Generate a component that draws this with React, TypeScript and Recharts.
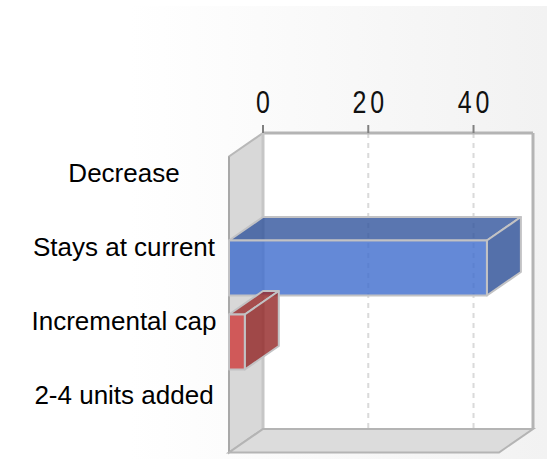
import { Bar, BarChart, CartesianGrid, Customized, XAxis, YAxis } from "recharts";

const categories = ["Decrease", "Stays at current", "Incremental cap", "2-4 units added"];
const responses = [0, 49, 3, 0];
const tickValues = [0, 20, 40];
const axisMax = 51.3;

const chartData = categories.map((name, i) => ({ name, value: responses[i] }));

// chart box and plot area (back plane of the 3d box)
const WIDTH = 547;
const HEIGHT = 459;
const MARGIN = { top: 93, right: 14, bottom: 30, left: 0 };
const X_AXIS_HEIGHT = 40;
const Y_AXIS_WIDTH = 263;
const PLOT_LEFT = MARGIN.left + Y_AXIS_WIDTH;
const PLOT_TOP = MARGIN.top + X_AXIS_HEIGHT;
const PLOT_RIGHT = WIDTH - MARGIN.right;
const PLOT_BOTTOM = HEIGHT - MARGIN.bottom;

// offset from the back plane to the front plane
const DEPTH_X = -34;
const DEPTH_Y = 23.5;

const EDGE = "#c2c2c4";

const palette = [
  { front: "#3d6bcd", top: "#31549c", side: "#294c95" },
  { front: "#3d6bcd", top: "#31549c", side: "#294c95" },
  { front: "#ce3a3a", top: "#9a2a2a", side: "#922424" },
  { front: "#3d6bcd", top: "#31549c", side: "#294c95" },
];

const pts = (list: number[][]) => list.map((p) => p.join(",")).join(" ");

function BoxBar(props: any) {
  const { x, y, width, height, index } = props;
  if (!width || width <= 0) return <g />;
  const c = palette[index % palette.length];
  const fx = x + DEPTH_X;
  const fy = y + DEPTH_Y;
  return (
    <g fillOpacity={0.8} stroke={EDGE} strokeWidth={2} strokeLinejoin="round">
      <polygon
        points={pts([[x, y], [x + width, y], [fx + width, fy], [fx, fy]])}
        fill={c.top}
      />
      <polygon
        points={pts([
          [x + width, y],
          [x + width, y + height],
          [fx + width, fy + height],
          [fx + width, fy],
        ])}
        fill={c.side}
      />
      <rect x={fx} y={fy} width={width} height={height} fill={c.front} />
    </g>
  );
}

function Walls() {
  return (
    <g>
      {/* back plane top and right borders */}
      <line x1={PLOT_LEFT} y1={PLOT_TOP} x2={PLOT_RIGHT} y2={PLOT_TOP} stroke="#b4b4b4" strokeWidth={3} />
      <line x1={PLOT_RIGHT} y1={PLOT_TOP} x2={PLOT_RIGHT} y2={PLOT_BOTTOM} stroke="#b4b4b4" strokeWidth={3} />
      {/* left wall */}
      <polygon
        points={pts([
          [PLOT_LEFT, PLOT_TOP],
          [PLOT_LEFT, PLOT_BOTTOM],
          [PLOT_LEFT + DEPTH_X, PLOT_BOTTOM + DEPTH_Y],
          [PLOT_LEFT + DEPTH_X, PLOT_TOP + DEPTH_Y],
        ])}
        fill="#d8d8d8"
        stroke="#b8b8b8"
        strokeWidth={2}
      />
      <line x1={PLOT_LEFT} y1={PLOT_TOP} x2={PLOT_LEFT} y2={PLOT_BOTTOM} stroke="#c6c6c6" strokeWidth={3} />
      <line
        x1={PLOT_LEFT + DEPTH_X}
        y1={PLOT_TOP + DEPTH_Y}
        x2={PLOT_LEFT + DEPTH_X}
        y2={PLOT_BOTTOM + DEPTH_Y}
        stroke="#a8a8a8"
        strokeWidth={2}
      />
      {/* floor */}
      <polygon
        points={pts([
          [PLOT_LEFT, PLOT_BOTTOM],
          [PLOT_RIGHT, PLOT_BOTTOM],
          [PLOT_RIGHT + DEPTH_X, PLOT_BOTTOM + DEPTH_Y],
          [PLOT_LEFT + DEPTH_X, PLOT_BOTTOM + DEPTH_Y],
        ])}
        fill="#dcdcdc"
        stroke="#b4b4b4"
        strokeWidth={2}
      />
    </g>
  );
}

// narrow, spaced-out digits for the value axis
function ValueTick(props: any) {
  const { x, y, payload } = props;
  return (
    <g transform={`translate(${x + 2},${y - 10}) scale(0.78,1)`}>
      <text
        x={0}
        y={0}
        textAnchor="middle"
        fontFamily="'Liberation Sans', Arial, sans-serif"
        fontSize={32}
        letterSpacing={5}
        fill="#111"
      >
        {payload.value}
      </text>
    </g>
  );
}

function CategoryTick(props: any) {
  const { y, payload } = props;
  return (
    <text
      x={124}
      y={y + 12}
      textAnchor="middle"
      fontFamily="'Liberation Sans', Arial, sans-serif"
      fontSize={26}
      fill="#000"
    >
      {payload.value}
    </text>
  );
}

export default function App() {
  return (
    <div
      style={{
        position: "absolute",
        left: 0,
        top: 0,
        width: WIDTH,
        height: HEIGHT,
        background: "#fff",
        overflow: "hidden",
      }}
    >
      <div
        style={{
          position: "absolute",
          left: 130,
          top: 6,
          right: 0,
          bottom: 0,
          background: "linear-gradient(to right, #ffffff, #f2f2f2)",
        }}
      />
      <BarChart
        width={WIDTH}
        height={HEIGHT}
        data={chartData}
        layout="vertical"
        margin={MARGIN}
        style={{ position: "absolute", left: 0, top: 0 }}
      >
        <CartesianGrid
          horizontal={false}
          stroke="#dadada"
          strokeWidth={2}
          strokeDasharray="5 5"
          fill="#ffffff"
          fillOpacity={1}
        />
        <XAxis
          type="number"
          orientation="top"
          domain={[0, axisMax]}
          ticks={tickValues}
          height={X_AXIS_HEIGHT}
          axisLine={false}
          tickLine={{ stroke: "#808080", strokeWidth: 2 }}
          tickSize={8}
          tick={<ValueTick />}
          interval={0}
        />
        <YAxis
          type="category"
          dataKey="name"
          width={Y_AXIS_WIDTH}
          axisLine={false}
          tickLine={false}
          tick={<CategoryTick />}
          interval={0}
        />
        <Customized component={Walls} />
        <Bar dataKey="value" barSize={55} shape={BoxBar} isAnimationActive={false} />
      </BarChart>
    </div>
  );
}
